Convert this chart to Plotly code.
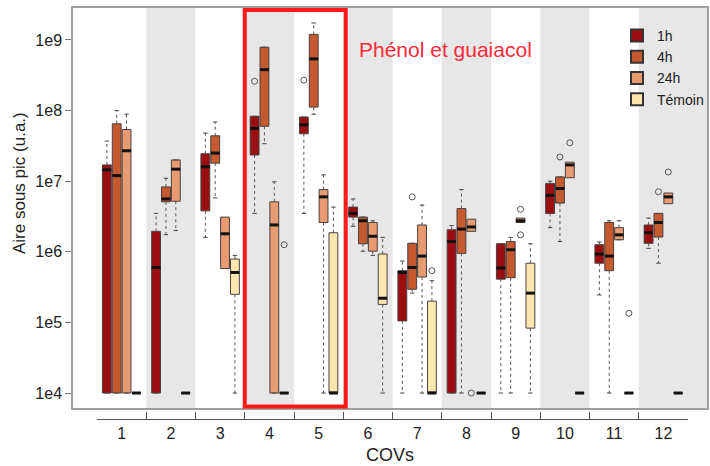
import plotly.graph_objects as go

# ---------------- data ----------------
covs = ["1", "2", "3", "4", "5", "6", "7", "8", "9", "10", "11", "12"]
series = ["1h", "4h", "24h", "Témoin"]
colors = ["#9b0f12", "#c55a30", "#e89a70", "#fbe6b0"]
offsets = [-0.3, -0.1, 0.1, 0.3]

# 1h
h1_q1 = [1e4, 1e4, 3.8e6, 2.35e7, 4.7e7, 3.1e6, 1.05e5, 1e4, 4.1e5, 3.5e6, 6.9e5, 1.32e6]
h1_med = [1.45e7, 6.0e5, 1.6e7, 5.6e7, 6.3e7, 3.5e6, 5.1e5, 1.4e6, 5.9e5, 6.3e6, 9.3e5, 1.86e6]
h1_q3 = [1.7e7, 1.95e6, 2.45e7, 8.3e7, 8.1e7, 4.3e6, 5.4e5, 2.05e6, 1.3e6, 9.3e6, 1.26e6, 2.4e6]
h1_lo = [1e4, 1e4, 1.6e6, 3.5e6, 3.5e6, 2.3e6, 1e4, 1e4, 1e4, 2.2e6, 2.45e5, 1.12e6]
h1_hi = [3.7e7, 3.5e6, 4.8e7, 8.3e7, 8.1e7, 5.6e6, 7.4e5, 2.35e6, 1.3e6, 1.0e7, 1.38e6, 3.0e6]
h1_out = [(4, 2.6e8), (5, 2.7e8)]

# 4h
h4_q1 = [1e4, 5.1e6, 1.8e7, 6.0e7, 1.12e8, 1.3e6, 2.95e5, 9.5e5, 4.3e5, 4.9e6, 5.4e5, 1.62e6]
h4_med = [1.2e7, 5.6e6, 2.5e7, 3.8e8, 5.4e8, 2.75e6, 6.0e5, 2.1e6, 1.07e6, 7.9e6, 8.7e5, 2.6e6]
h4_q3 = [6.5e7, 8.3e6, 4.4e7, 7.9e8, 1.2e9, 3.1e6, 1.32e6, 4.1e6, 1.4e6, 1.15e7, 2.6e6, 3.5e6]
h4_lo = [1e4, 1.75e6, 5.8e6, 3.4e7, 8.9e7, 1.02e6, 2.6e5, 1e4, 1e4, 1.4e6, 1e4, 6.9e5]
h4_hi = [1.0e8, 1.1e7, 6.9e7, 7.9e8, 1.74e9, 3.1e6, 1.32e6, 7.6e6, 1.6e6, 1.15e7, 2.75e6, 3.5e6]
h4_out = [(7, 6.0e6), (10, 2.2e7), (12, 7.1e6)]

# 24h
h24_q1 = [1e4, 5.2e6, 5.8e5, 1e4, 2.6e6, 1.02e6, 4.4e5, 1.95e6, 2.6e6, 1.12e7, 1.48e6, 4.8e6]
h24_med = [2.7e7, 1.48e7, 1.8e6, 2.4e6, 6.0e6, 1.66e6, 8.7e5, 2.25e6, 2.75e6, 1.7e7, 1.74e6, 6.0e6]
h24_q3 = [5.4e7, 2.0e7, 3.1e6, 5.1e6, 7.6e6, 2.6e6, 2.4e6, 2.9e6, 3.0e6, 1.86e7, 2.2e6, 6.8e6]
h24_lo = [1e4, 2.0e6, 5.8e5, 1e4, 1e4, 8.9e5, 1e4, 1.95e6, 2.6e6, 1.12e7, 1.48e6, 4.8e6]
h24_hi = [8.9e7, 2.0e7, 3.1e6, 9.8e6, 1.23e7, 2.75e6, 4.6e6, 2.9e6, 3.0e6, 1.86e7, 2.75e6, 6.8e6]
h24_out = [(8, 1e4), (9, 4.0e6), (9, 1.74e6), (10, 3.5e7), (12, 1.35e7)]

# Témoin
t_q1 = [1e4, 1e4, 2.5e5, 1e4, 1e4, 1.8e5, 1e4, 1e4, 8.3e4, 1e4, 1e4, 1e4]
t_med = [1e4, 1e4, 5.1e5, 1e4, 1e4, 2.2e5, 1e4, 1e4, 2.6e5, 1e4, 1e4, 1e4]
t_q3 = [1e4, 1e4, 7.9e5, 1e4, 1.86e6, 9.3e5, 2.0e5, 1e4, 6.9e5, 1e4, 1e4, 1e4]
t_lo = [1e4, 1e4, 1e4, 1e4, 1e4, 1e4, 1e4, 1e4, 1e4, 1e4, 1e4, 1e4]
t_hi = [1e4, 1e4, 8.9e5, 1e4, 4.3e6, 1.6e6, 3.9e5, 1e4, 1.3e6, 1e4, 1e4, 1e4]
t_out = [(4, 1.26e6), (7, 5.4e5), (11, 1.35e5)]

stats = [
    (h1_q1, h1_med, h1_q3, h1_lo, h1_hi, h1_out),
    (h4_q1, h4_med, h4_q3, h4_lo, h4_hi, h4_out),
    (h24_q1, h24_med, h24_q3, h24_lo, h24_hi, h24_out),
    (t_q1, t_med, t_q3, t_lo, t_hi, t_out),
]

y_ticks = [1e4, 1e5, 1e6, 1e7, 1e8, 1e9]
y_ticktext = ["1e4", "1e5", "1e6", "1e7", "1e8", "1e9"]

# ---------------- figure ----------------
W, H = 710, 466
ML, MR, MT, MB = 73, 3, 8, 0
groups = list(range(1, len(covs) + 1))
px_per_unit = 49.25
x_range = [0.5 - 24 / px_per_unit, 12.5 + 19 / px_per_unit]
plot_h = H - MT - MB
y_dom0 = (H - 408) / plot_h
axis2_pos = (H - 419) / plot_h
plot_w = W - ML - MR
x2_dom = [(0.5 - x_range[0]) * px_per_unit / plot_w, (12.5 - x_range[0]) * px_per_unit / plot_w]

box_w = 0.18
cap_w = 0.045
fig = go.Figure()

for (q1, med, q3, lo, hi, outs), name, col, off in zip(stats, series, colors, offsets):
    xs = [g + off for g in groups]
    fig.add_trace(go.Box(
        x=xs, q1=q1, median=med, q3=q3, lowerfence=q1, upperfence=q3,
        width=box_w, fillcolor=col, line=dict(color="#4a4040", width=1),
        boxpoints=False, showlegend=False, hoverinfo="skip", whiskerwidth=0,
    ))
    # dashed whiskers
    wx, wy, cx, cy = [], [], [], []
    for x, a, b, l, h in zip(xs, q1, q3, lo, hi):
        if h > b:
            wx += [x, x, None]; wy += [b, h, None]
        if l < a:
            wx += [x, x, None]; wy += [a, l, None]
        if h > b or l < a:
            for v in (l, h):
                cx += [x - cap_w, x + cap_w, None]; cy += [v, v, None]
    fig.add_trace(go.Scatter(x=wx, y=wy, mode="lines", showlegend=False, hoverinfo="skip",
                             line=dict(color="#555555", width=1, dash="dot")))
    fig.add_trace(go.Scatter(x=cx, y=cy, mode="lines", showlegend=False, hoverinfo="skip",
                             line=dict(color="#444444", width=1)))
    # medians
    mx, my = [], []
    for x, m in zip(xs, med):
        mx += [x - box_w / 2, x + box_w / 2, None]; my += [m, m, None]
    fig.add_trace(go.Scatter(x=mx, y=my, mode="lines", showlegend=False, hoverinfo="skip",
                             line=dict(color="#111111", width=3)))
    # outliers
    if outs:
        fig.add_trace(go.Scatter(x=[g + off for g, v in outs], y=[v for g, v in outs], mode="markers",
                                 showlegend=False, hoverinfo="skip",
                                 marker=dict(symbol="circle-open", size=6, color="#555555", line=dict(width=1))))
    # legend entry
    fig.add_trace(go.Scatter(x=[None], y=[None], mode="markers", name=name,
                             marker=dict(symbol="square", size=10, color=col, line=dict(color="#333333", width=1))))

# dummy trace for the lower axis
fig.add_trace(go.Scatter(x=[None], y=[None], xaxis="x2", showlegend=False))

# grey bands
shapes = []
for g in groups:
    if g % 2 == 0:
        shapes.append(dict(type="rect", xref="x", yref="y domain", x0=g - 0.5,
                           x1=(g + 0.5) if g < len(groups) else x_range[1],
                           y0=0, y1=1, fillcolor="#e7e7e7", line=dict(width=0), layer="below"))
# red highlight
shapes.append(dict(type="rect", xref="x", yref="y domain", x0=3.5, x1=5.55, y0=0.004, y1=0.995,
                   line=dict(color="#ff1a1a", width=4), fillcolor="rgba(0,0,0,0)", layer="above"))

font_family = "Liberation Sans, Arial, sans-serif"
fig.update_layout(
    width=W, height=H,
    margin=dict(l=ML, r=MR, t=MT, b=MB, autoexpand=False),
    paper_bgcolor="white", plot_bgcolor="rgba(0,0,0,0)",
    font=dict(family=font_family, color="#222222"),
    shapes=shapes,
    showlegend=True,
    legend=dict(x=(617 - ML) / plot_w, y=(H - 20) / plot_h, xanchor="left", yanchor="top",
                bgcolor="rgba(0,0,0,0)", font=dict(size=14, color="#222222"),
                tracegroupgap=0, itemsizing="constant"),
    xaxis=dict(range=x_range, tickvals=groups, ticktext=covs, ticks="outside", ticklen=10,
               tickcolor="rgba(0,0,0,0)", tickfont=dict(size=16), showgrid=False, zeroline=False,
               showline=True, mirror=True, linecolor="#a0a0a0", linewidth=1.5, automargin=False),
    xaxis2=dict(anchor="free", position=axis2_pos, domain=x2_dom, range=[0.5, 12.5],
                tickvals=[g - 0.5 for g in groups] + [groups[-1] + 0.5], ticks="inside", ticklen=7,
                tickcolor="#555555", showticklabels=False, showline=True, linecolor="#555555",
                linewidth=1, showgrid=False, zeroline=False, automargin=False),
    yaxis=dict(type="log", range=[3.788, 9.453], domain=[y_dom0, 1], tickvals=y_ticks,
               ticktext=y_ticktext, ticks="outside", ticklen=6, tickcolor="#777777",
               tickfont=dict(size=16), showgrid=False, zeroline=False, showline=True, mirror=True,
               linecolor="#a0a0a0", linewidth=1.5, automargin=False),
    annotations=[
        dict(text="Phénol et guaiacol", xref="paper", yref="paper", x=(445 - ML) / plot_w,
             y=(H - 50) / plot_h, xanchor="center", yanchor="middle", showarrow=False,
             font=dict(size=21, color="#ff2a3a")),
        dict(text="Aire sous pic (u.a.)", xref="paper", yref="paper", x=(20 - ML) / plot_w,
             y=(H - 183) / plot_h, xanchor="center", yanchor="middle", textangle=-90, showarrow=False,
             font=dict(size=17, color="#222222")),
        dict(text="COVs", xref="paper", yref="paper", x=(390 - ML) / plot_w,
             y=(H - 455) / plot_h, xanchor="center", yanchor="middle", showarrow=False,
             font=dict(size=18, color="#222222")),
    ],
)

fig.write_html("out.html", config={"displayModeBar": False},
               post_script="document.body.style.margin='0';")
